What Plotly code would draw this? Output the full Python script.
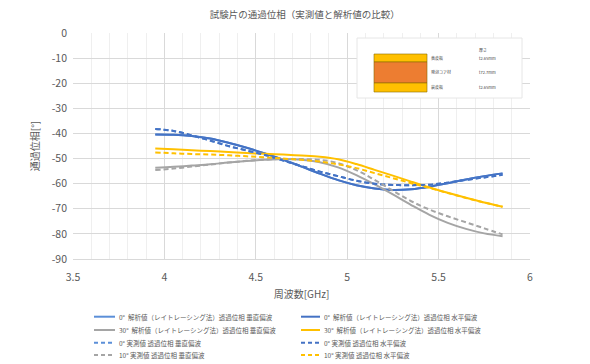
import plotly.graph_objects as go

freq = [3.95, 4.05, 4.15, 4.25, 4.35, 4.45, 4.55, 4.65, 4.75, 4.85,
        4.95, 5.05, 5.15, 5.25, 5.35, 5.45, 5.55, 5.65, 5.75, 5.85]

calc_0 = [-40.4, -40.5, -41.0, -42.0, -43.7, -45.7, -48.0, -50.5, -53.2, -56.0,
          -58.6, -60.6, -61.9, -62.5, -62.2, -61.2, -59.8, -58.3, -57.0, -55.9]
calc_30_v = [-53.7, -53.3, -52.8, -52.3, -51.6, -51.0, -50.5, -50.2, -50.5, -51.5,
             -53.5, -56.6, -60.3, -64.3, -68.5, -72.4, -75.6, -78.0, -79.8, -80.9]
calc_30_h = [-46.0, -46.3, -46.7, -47.0, -47.4, -47.8, -48.1, -48.4, -48.8, -49.3,
             -50.3, -52.2, -54.5, -56.8, -59.2, -61.5, -63.6, -65.6, -67.5, -69.2]
meas_0 = [-38.2, -39.0, -40.8, -42.8, -45.0, -46.8, -48.6, -50.8, -53.0, -55.2,
          -57.0, -58.8, -60.0, -60.5, -60.6, -60.4, -59.6, -58.5, -57.5, -56.5]
meas_30_v = [-54.6, -54.0, -53.2, -52.4, -51.6, -50.9, -50.4, -50.2, -50.2, -50.5,
             -51.8, -54.6, -58.5, -62.8, -67.0, -70.3, -73.0, -75.4, -77.8, -80.2]
meas_30_h = [-47.6, -47.9, -48.2, -48.4, -48.7, -49.1, -49.5, -50.0, -50.5, -51.2,
             -52.3, -53.8, -55.8, -57.8, -59.8, -61.7, -63.7, -65.7, -67.5, -69.2]

y_ticks = [0, -10, -20, -30, -40, -50, -60, -70, -80, -90]
y_tick_labels = ["0", "-10", "-20", "-30", "-40", "-50", "-60", "-70", "-80", "-90"]

names = [
    "0°  解析値（レイトレーシング法）透過位相 垂直偏波",
    "0°  解析値（レイトレーシング法）透過位相 水平偏波",
    "30°  解析値（レイトレーシング法）透過位相 垂直偏波",
    "30°  解析値（レイトレーシング法）透過位相 水平偏波",
    "0° 実測値 透過位相 垂直偏波",
    "0° 実測値 透過位相 水平偏波",
    "10° 実測値 透過位相 垂直偏波",
    "10° 実測値 透過位相 水平偏波",
]
series = [calc_0, calc_0, calc_30_v, calc_30_h, meas_0, meas_0, meas_30_v, meas_30_h]
colors = ["#5B8FD8", "#4472C4", "#A5A5A5", "#FFC000",
          "#5B8FD8", "#4472C4", "#A5A5A5", "#FFC000"]
dashes = ["solid", "solid", "solid", "solid", "5px,3px", "5px,3px", "5px,3px", "5px,3px"]

fig = go.Figure()
for n, s, c, d in zip(names, series, colors, dashes):
    fig.add_trace(go.Scatter(x=freq, y=s, name=n, mode="lines", showlegend=False,
                             line=dict(color=c, width=2, dash=d, shape="spline")))

font = "Noto Sans CJK JP"
grey = "#595959"

# the page has an 8px body margin, so the figure is drawn 8px smaller
OFF = 8
W, H = 590 - OFF, 364 - OFF
# plot area in reference-picture pixels: x 73..530, y 33..259
L, T = 73 - OFF, 33 - OFF
R, B = W - (530 - OFF), H - (259 - OFF)
pw, ph = W - L - R, H - T - B


def px(x):
    return (x - OFF - L) / pw


def py(y):
    return (H - B - (y - OFF)) / ph


fig.update_layout(
    width=W, height=H,
    margin=dict(l=L, r=R, t=T, b=B, autoexpand=False),
    paper_bgcolor="white", plot_bgcolor="white",
    font=dict(family=font, color=grey, size=10),
    title=dict(text="試験片の通過位相（実測値と解析値の比較）", x=0.51, xanchor="center",
               y=1 - 3 / H, yanchor="top", pad=dict(t=0, b=0), font=dict(size=9.5, color=grey)),
    showlegend=False,
)
fig.update_xaxes(range=[3.5, 6], dtick=0.5, showgrid=True, gridcolor="#D9D9D9",
                 minor=dict(dtick=0.1, showgrid=True, gridcolor="#EFEFEF"),
                 showline=True, linecolor="#D9D9D9", zeroline=False, mirror=False,
                 tickfont=dict(size=10.5, color=grey), ticks="", ticklabelstandoff=8,
                 title=dict(text="周波数[GHz]", font=dict(size=10, color=grey), standoff=8))
fig.update_yaxes(range=[-90, 0], tickvals=y_ticks, ticktext=y_tick_labels,
                 showgrid=True, gridcolor="#D9D9D9", zeroline=False, showline=False,
                 tickfont=dict(size=10.5, color=grey), ticks="", ticklabelstandoff=5,
                 title=dict(text="通過位相[°]", font=dict(size=10, color=grey), standoff=10))

# inset diagram of the specimen layers
fig.add_shape(type="rect", xref="paper", yref="paper", x0=px(357), x1=px(522), y0=py(98), y1=py(38),
              fillcolor="white", line=dict(color="#E6E6E6", width=1), layer="above")
layers = [(54, 62, "#FFC000"), (62, 83, "#ED7D31"), (83, 92, "#FFC000")]
for top, bot, col in layers:
    fig.add_shape(type="rect", xref="paper", yref="paper", x0=px(374), x1=px(427),
                  y0=py(bot), y1=py(top), fillcolor=col,
                  line=dict(color="#8C6D00", width=0.6), layer="above")
labels = [("表皮板", 58), ("発泡コア材", 72), ("裏皮板", 87)]
for t, yy in labels:
    fig.add_annotation(text=t, xref="paper", yref="paper", x=px(429), y=py(yy), xanchor="left",
                       yanchor="middle", showarrow=False, font=dict(size=4, color="#404040"))
thick = [("厚さ", 50), ("t2.65mm", 58), ("t72.7mm", 72), ("t2.65mm", 87)]
for t, yy in thick:
    fig.add_annotation(text=t, xref="paper", yref="paper", x=px(477), y=py(yy), xanchor="left",
                       yanchor="middle", showarrow=False, font=dict(size=4, color="#404040"))

# legend (two columns, drawn compactly like the original)
row_y = [316.7, 330, 342.7, 355]
col_x = [(94, 115), (301, 320)]
for i, (n, c, d) in enumerate(zip(names, colors, dashes)):
    r, k = divmod(i, 2)
    x0, x1 = col_x[k]
    yy = py(row_y[r])
    fig.add_shape(type="line", xref="paper", yref="paper", x0=px(x0), x1=px(x1), y0=yy, y1=yy,
                  line=dict(color=c, width=2, dash="4px,3px" if d != "solid" else "solid"))
    fig.add_annotation(text=n, xref="paper", yref="paper", x=px(x1 + 2), y=yy, xanchor="left",
                       yanchor="middle", showarrow=False, font=dict(size=6.5, color=grey))

fig.write_html("out.html")
